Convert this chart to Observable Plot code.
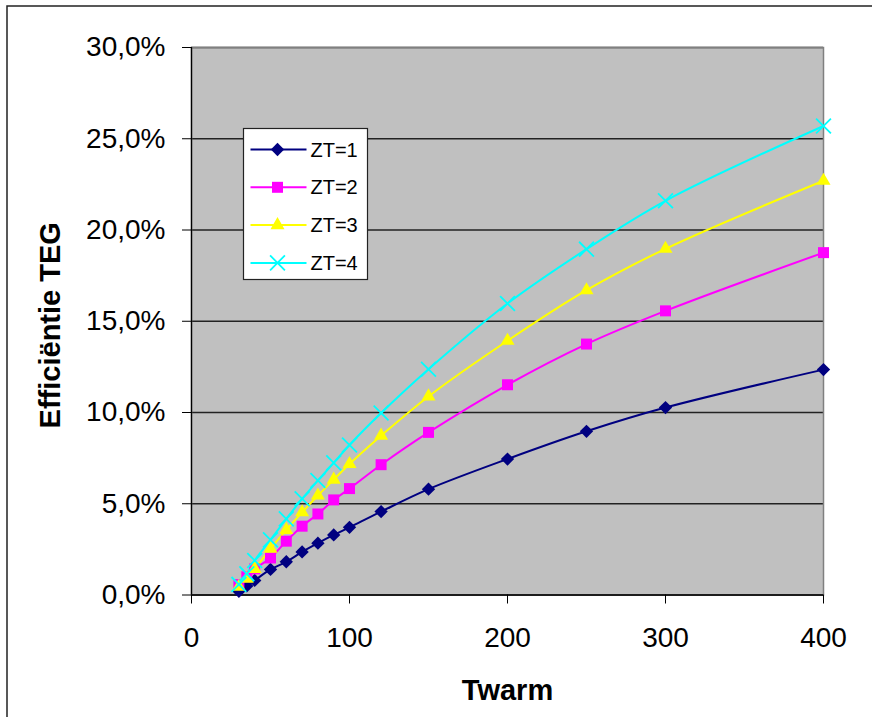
<!DOCTYPE html>
<html>
<head>
<meta charset="utf-8">
<script src="https://cdn.jsdelivr.net/npm/d3@7"></script>
<script src="https://cdn.jsdelivr.net/npm/@observablehq/plot@0.6"></script>
<style>
  html, body { margin: 0; padding: 0; background: white; overflow: hidden; }
  #chart { position: relative; width: 872px; height: 717px; }
</style>
</head>
<body>
<div id="chart"></div>
<script>
// ---- data ----
const twarm = [30, 35, 40, 50, 60, 70, 80, 90, 100, 120, 150, 200, 250, 300, 400];
const zt1 = [0.2, 0.5, 0.8, 1.4, 1.82, 2.36, 2.84, 3.29, 3.71, 4.57, 5.8, 7.45, 8.97, 10.27, 12.35];
const zt2 = [0.57, 1.0, 1.43, 2.03, 2.95, 3.77, 4.44, 5.21, 5.83, 7.14, 8.91, 11.52, 13.75, 15.57, 18.76];
const zt3 = [0.45, 0.89, 1.43, 2.53, 3.57, 4.53, 5.45, 6.32, 7.18, 8.73, 10.88, 13.93, 16.7, 18.97, 22.7];
const zt4 = [0.58, 1.16, 1.89, 3.02, 4.17, 5.27, 6.27, 7.24, 8.22, 9.97, 12.37, 15.97, 18.95, 21.6, 25.7];
const seriesNames = ["ZT=1", "ZT=2", "ZT=3", "ZT=4"];
const seriesValues = [zt1, zt2, zt3, zt4];
const seriesColors = ["#000080", "#FF00FF", "#FFFF00", "#00FFFF"];
const seriesSymbols = ["diamond2", "square", "triangle", "times"];
const seriesR = [6, 6.2, 5.2, 6.8];
const xTicks = [0, 100, 200, 300, 400];
const yTicks = [0, 5, 10, 15, 20, 25, 30];
const xTitle = "Twarm";
const yTitle = "Efficiëntie TEG";

const rows = [];
seriesNames.forEach((name, i) => {
  twarm.forEach((t, j) => rows.push({series: name, x: t, y: seriesValues[i][j]}));
});

const fmt = d => d.toFixed(1).replace(".", ",") + "%";
const font = "'Liberation Sans', Arial, sans-serif";

const marks = [
  Plot.frame({fill: "#C0C0C0"}),
  Plot.gridY(yTicks, {stroke: "#222", strokeOpacity: 1, strokeWidth: 1.3}),
  Plot.frame({stroke: "#808080", strokeWidth: 1.5}),
  Plot.ruleX([0], {stroke: "black", strokeWidth: 1.3}),
  Plot.ruleY([0], {stroke: "black", strokeWidth: 1.3}),
  Plot.axisX({ticks: xTicks, tickSize: 9, tickPadding: 23, fontSize: 28, label: null, stroke: "black"}),
  Plot.axisY({ticks: yTicks, tickSize: 9, tickPadding: 17, fontSize: 28, label: null, tickFormat: fmt}),
  Plot.text([xTitle], {frameAnchor: "bottom", lineAnchor: "middle", textAnchor: "middle", dy: 96, fontSize: 29, fontWeight: "bold", fill: "black"}),
  Plot.text([yTitle], {frameAnchor: "left", lineAnchor: "middle", textAnchor: "middle", dx: -141, dy: 4, rotate: -90, fontSize: 29, fontWeight: "bold", fill: "black"})
];

seriesNames.forEach((name, i) => {
  const data = rows.filter(d => d.series === name);
  marks.push(Plot.line(data, {x: "x", y: "y", stroke: seriesColors[i], strokeWidth: 2, curve: "catmull-rom"}));
});
seriesNames.forEach((name, i) => {
  const data = rows.filter(d => d.series === name);
  const stroked = seriesSymbols[i] === "times";
  marks.push(Plot.dot(data, {
    x: "x", y: "y", r: seriesR[i], symbol: seriesSymbols[i],
    fill: stroked ? "none" : seriesColors[i],
    stroke: stroked ? seriesColors[i] : "none",
    strokeWidth: stroked ? 1.8 : 0
  }));
});

const svgNode = Plot.plot({
  width: 872,
  height: 717,
  marginLeft: 191,
  marginRight: 49,
  marginTop: 47,
  marginBottom: 122.5,
  style: {background: "white", fontFamily: font, color: "black"},
  x: {domain: [0, 400]},
  y: {domain: [0, 30]},
  marks
});
document.getElementById("chart").appendChild(svgNode);

// outer chart border and legend box
const svg = d3.select(svgNode);
svg.append("rect")
  .attr("x", 7).attr("y", 6).attr("width", 900).attr("height", 800)
  .attr("fill", "none").attr("stroke", "#222").attr("stroke-width", 1.5);

const lg = svg.append("g").attr("transform", "translate(243.5,128.5)");
lg.append("rect").attr("width", 124).attr("height", 151)
  .attr("fill", "white").attr("stroke", "#222").attr("stroke-width", 1.2);
const symMap = {diamond2: d3.symbolDiamond2, square: d3.symbolSquare, triangle: d3.symbolTriangle, times: d3.symbolTimes};
seriesNames.forEach((name, i) => {
  const y = 21 + i * 37.8;
  lg.append("line").attr("x1", 7).attr("x2", 63).attr("y1", y).attr("y2", y)
    .attr("stroke", seriesColors[i]).attr("stroke-width", 2);
  const stroked = seriesSymbols[i] === "times";
  lg.append("path")
    .attr("d", d3.symbol(symMap[seriesSymbols[i]], Math.PI * seriesR[i] * seriesR[i])())
    .attr("transform", `translate(34,${y})`)
    .attr("fill", stroked ? "none" : seriesColors[i])
    .attr("stroke", stroked ? seriesColors[i] : "none")
    .attr("stroke-width", stroked ? 1.8 : 0);
  lg.append("text").attr("x", 67).attr("y", y).attr("dy", "0.35em")
    .attr("text-anchor", "start")
    .attr("font-family", font).attr("font-size", 20).attr("fill", "black")
    .text(name);
});
</script>
</body>
</html>
